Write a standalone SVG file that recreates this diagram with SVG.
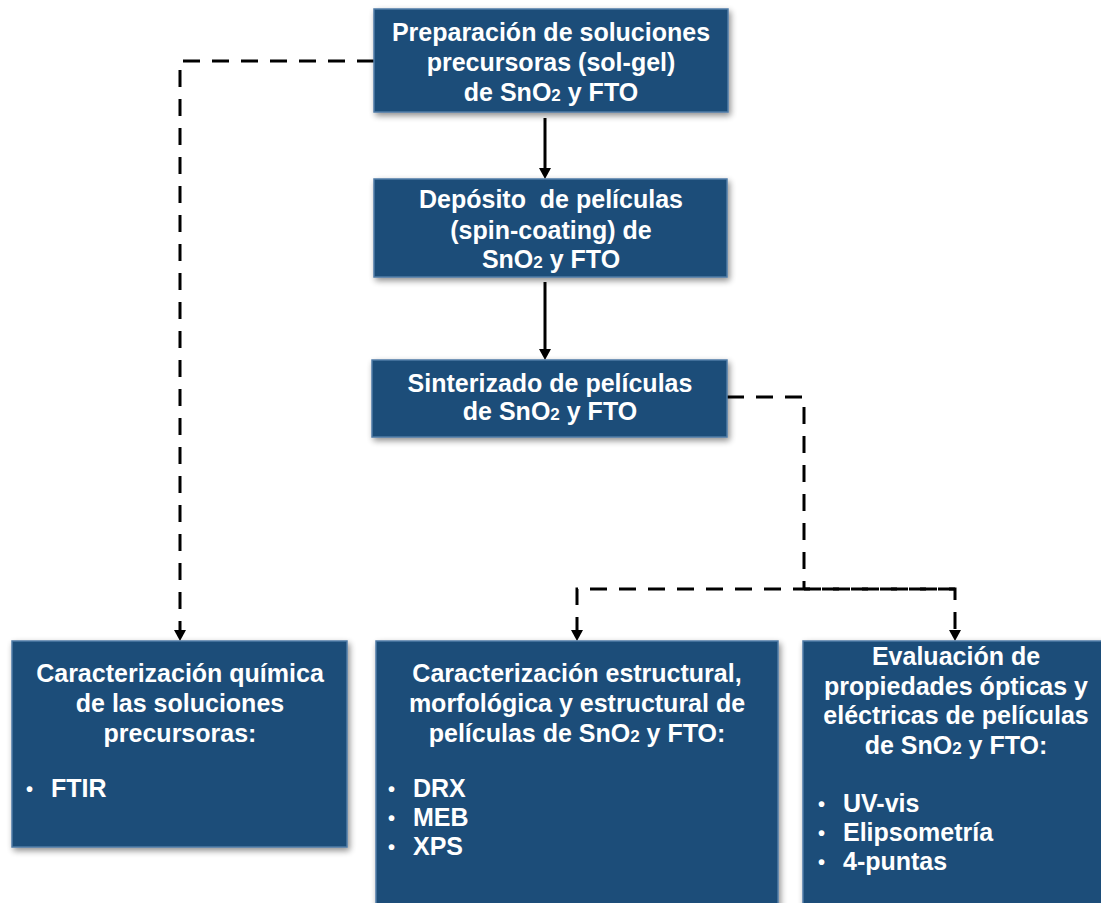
<svg xmlns="http://www.w3.org/2000/svg" width="1101" height="903" viewBox="0 0 1101 903">
<style>
.box{fill:#1F4E79;stroke:#4F7BA6;stroke-width:1.5;filter:url(#sh)}
.t{font-family:"Liberation Sans",Arial,sans-serif;font-weight:bold;font-size:25px;fill:#fff;text-anchor:middle}
.b{font-family:"Liberation Sans",Arial,sans-serif;font-weight:bold;font-size:25px;fill:#fff}
.bu{font-family:"Liberation Sans",Arial,sans-serif;font-weight:bold;font-size:20px;fill:#fff}
.s{font-size:17px}
.dash{fill:none;stroke:#000;stroke-width:3;stroke-dasharray:17 12}
.solid{fill:none;stroke:#000;stroke-width:3}
</style>
<defs>
<filter id="sh" x="-10%" y="-10%" width="125%" height="125%">
<feGaussianBlur in="SourceAlpha" stdDeviation="3"/>
<feOffset dx="2" dy="3" result="o"/>
<feComponentTransfer><feFuncA type="linear" slope="0.45"/></feComponentTransfer>
<feMerge><feMergeNode/><feMergeNode in="SourceGraphic"/></feMerge>
</filter>
</defs>
<g id="connectors">
<path class="dash" d="M374,61 H180 V630"/>
<path class="solid" d="M545,118 V168"/>
<path class="solid" d="M545,282 V349"/>
<path class="dash" d="M727,397 H804 V589"/>
<path class="dash" d="M955,589 H577 V630"/>
<path class="dash" d="M804,589 H955 V630"/>
<path d="M174,630 L186,630 L180,641 Z"/>
<path d="M539,168 L551,168 L545,179 Z"/>
<path d="M539,349 L551,349 L545,360 Z"/>
<path d="M571,630 L583,630 L577,641 Z"/>
<path d="M949,630 L961,630 L955,641 Z"/>
</g>
<g id="n1">
<rect class="box" x="374" y="9" width="354" height="103"/>
<text class="t" x="551" y="41">Preparación de soluciones</text>
<text class="t" x="551" y="71">precursoras (sol-gel)</text>
<text class="t" x="551" y="101">de SnO<tspan class="s">2</tspan> y FTO</text>
</g>
<g id="n2">
<rect class="box" x="374" y="179" width="353" height="98"/>
<text class="t" x="551" y="208" xml:space="preserve">Depósito  de películas</text>
<text class="t" x="551" y="239">(spin-coating) de</text>
<text class="t" x="551" y="268">SnO<tspan class="s">2</tspan> y FTO</text>
</g>
<g id="n3">
<rect class="box" x="372" y="360" width="355" height="77"/>
<text class="t" x="550" y="392">Sinterizado de películas</text>
<text class="t" x="550" y="420">de SnO<tspan class="s">2</tspan> y FTO</text>
</g>
<g id="n4">
<rect class="box" x="12" y="641" width="335" height="206"/>
<text class="t" x="180" y="682">Caracterización química</text>
<text class="t" x="180" y="712">de las soluciones</text>
<text class="t" x="180" y="742">precursoras:</text>
<text class="bu" x="26" y="796">•</text>
<text class="b" x="51" y="797">FTIR</text>
</g>
<g id="n5">
<rect class="box" x="376" y="641" width="402" height="270"/>
<text class="t" x="577" y="682">Caracterización estructural,</text>
<text class="t" x="577" y="712">morfológica y estructural de</text>
<text class="t" x="577" y="742">películas de SnO<tspan class="s">2</tspan> y FTO:</text>
<text class="bu" x="388" y="796">•</text>
<text class="b" x="413" y="797">DRX</text>
<text class="bu" x="388" y="825">•</text>
<text class="b" x="413" y="826">MEB</text>
<text class="bu" x="388" y="854">•</text>
<text class="b" x="413" y="855">XPS</text>
</g>
<g id="n6">
<rect class="box" x="803" y="641" width="310" height="270"/>
<text class="t" x="956" y="665">Evaluación de</text>
<text class="t" x="956" y="695">propiedades ópticas y</text>
<text class="t" x="956" y="724">eléctricas de películas</text>
<text class="t" x="956" y="754">de SnO<tspan class="s">2</tspan> y FTO:</text>
<text class="bu" x="818" y="811">•</text>
<text class="b" x="843" y="812">UV-vis</text>
<text class="bu" x="818" y="840">•</text>
<text class="b" x="843" y="841">Elipsometría</text>
<text class="bu" x="818" y="869">•</text>
<text class="b" x="843" y="870">4-puntas</text>
</g>
</svg>
